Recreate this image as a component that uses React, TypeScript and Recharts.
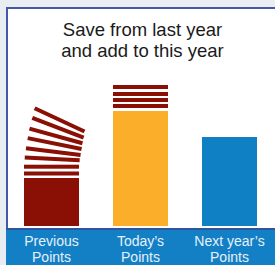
import React from "react";
import { BarChart, Bar, XAxis, YAxis, Cell } from "recharts";

// categories and bar heights (baseline = 0)
const categories = ["Previous Points", "Today\u2019s Points", "Next year\u2019s Points"];
const baseValues = [48, 115, 89];
const baseColors = ["#8a0f04", "#fbae29", "#1080c5"];

// saved stripes stacked on top of the bars: gap below each stripe, stripe thickness, tilt in degrees
const prevGaps = [2.5, 2.8, 2.4, 1.5, 2, 2, 2, 2.5];
const prevTilt = [0, 0, 3, 7, 11.5, 15.5, 21, 25];
const todayGaps = [3, 2, 2, 3];
const stripeValue = 4;

const stripeSlots = [1, 2, 3, 4, 5, 6, 7, 8];

const buildRow = (i: number) => {
  const row: Record<string, string | number> = { name: categories[i], base: baseValues[i] };
  const gaps = i === 0 ? prevGaps : i === 1 ? todayGaps : [];
  stripeSlots.forEach((k, j) => {
    row[`g${k}`] = j < gaps.length ? gaps[j] : 0;
    row[`s${k}`] = j < gaps.length ? stripeValue : 0;
    row[`t${k}`] = i === 0 ? prevTilt[j] : 0;
  });
  return row;
};

const data = categories.map((_, i) => buildRow(i));

const Stripe = (k: number) => (props: any) => {
  const { x, y, width, height, payload } = props;
  if (!height || height <= 0) return null;
  const tilt = payload[`t${k}`] || 0;
  const px = x + width;
  const py = y + height / 2 + 13;
  return (
    <rect
      x={x}
      y={y}
      width={width}
      height={height}
      fill="#8a0f04"
      transform={`rotate(${tilt} ${px} ${py})`}
    />
  );
};

const LabelTick = (props: any) => {
  const { x, payload } = props;
  const words = String(payload.value).split(" ");
  const last = words.pop();
  // the axis line sits on the bar baseline (y = 226)
  const top = 226;
  return (
    <text
      x={x}
      textAnchor="middle"
      fill="#e6f0fa"
      fontSize={14}
      fontFamily="'Liberation Sans', Arial, sans-serif"
    >
      <tspan x={x} y={top + 20}>{words.join(" ")}</tspan>
      <tspan x={x} y={top + 36}>{last}</tspan>
    </text>
  );
};

const App: React.FC = () => {
  return (
    <div style={{ position: "absolute", left: 0, top: 0, width: 275, height: 265, background: "#e9edf2", overflow: "hidden" }}>
      <div
        style={{
          position: "absolute",
          left: 6,
          top: 7,
          width: 275,
          height: 265,
          background: "#ffffff",
          borderLeft: "2px solid #4558a8",
          borderTop: "2px solid #4558a8",
          boxSizing: "border-box",
        }}
      />
      <div
        style={{
          position: "absolute",
          left: 6,
          top: 228,
          width: 275,
          height: 40,
          background: "#1380c6",
          borderTop: "2px solid #2f55a0",
          boxSizing: "border-box",
        }}
      />
      <svg width={275} height={70} style={{ position: "absolute", left: 0, top: 0 }}>
        <text
          x={142.5}
          textAnchor="middle"
          fill="#1a1a1a"
          fontSize={18.5}
          fontFamily="'Liberation Sans', Arial, sans-serif"
        >
          <tspan x={142.5} y={36}>Save from last year</tspan>
          <tspan x={142.5} y={57}>and add to this year</tspan>
        </text>
      </svg>
      <div style={{ position: "absolute", left: 0, top: 0 }}>
        <BarChart width={275} height={265} data={data} margin={{ top: 26, right: 1, left: 7, bottom: 0 }}>
          <XAxis dataKey="name" axisLine={false} tickLine={false} height={39} interval={0} tick={<LabelTick />} />
          <YAxis hide domain={[0, 200]} />
          <Bar dataKey="base" stackId="a" barSize={55} isAnimationActive={false}>
            {data.map((_, i) => (
              <Cell key={i} fill={baseColors[i]} />
            ))}
          </Bar>
          {stripeSlots.flatMap((k) => [
            <Bar key={`g${k}`} dataKey={`g${k}`} stackId="a" barSize={55} fill="none" isAnimationActive={false} />,
            <Bar key={`s${k}`} dataKey={`s${k}`} stackId="a" barSize={55} shape={Stripe(k)} isAnimationActive={false} />,
          ])}
        </BarChart>
      </div>
    </div>
  );
};

export default App;
